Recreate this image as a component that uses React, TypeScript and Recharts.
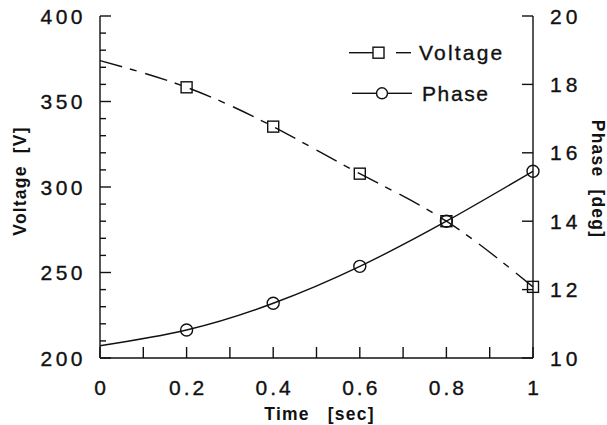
import React from 'react';
import { LineChart, Line, XAxis, YAxis, Legend, Label } from 'recharts';

const times = [0, 0.2, 0.4, 0.6, 0.8, 1.0];
const voltage = [373.9, 358.3, 335.3, 307.8, 280, 241.6];
const phase = [10.36, 10.82, 11.6, 12.68, 14.0, 15.46];

const xTicks = [0, 0.1, 0.2, 0.3, 0.4, 0.5, 0.6, 0.7, 0.8, 0.9, 1.0];
const voltageTicks = [200, 210, 220, 230, 240, 250, 260, 270, 280, 290, 300, 310, 320, 330, 340, 350, 360, 370, 380, 390, 400];
const phaseTicks = [10, 12, 14, 16, 18, 20];

const data = times.map((t, i) => ({ t, voltage: voltage[i], phase: phase[i] }));

const FONT = '"Liberation Sans", Arial, Helvetica, sans-serif';
const INK = '#111';
const SW = 1.4;
const TXT_STROKE = 0.35;

const fmtX = (v: number) => (Math.abs(v) < 1e-9 ? '0' : Math.abs(v - 1) < 1e-9 ? '1' : v.toFixed(1));

const BottomTick = (props: any) => {
  const { x, y, payload } = props;
  const v = payload.value as number;
  const major = Math.round(v * 10) % 2 === 0;
  return (
    <g>
      <line x1={x} y1={y} x2={x} y2={y - 11} stroke={INK} strokeWidth={SW} />
      {major && (
        <text x={x + 1.5} y={y + 37} textAnchor="middle" fontFamily={FONT} fontSize={21} fill={INK} stroke={INK} strokeWidth={TXT_STROKE} style={{ letterSpacing: 3 }}>
          {fmtX(v)}
        </text>
      )}
    </g>
  );
};

const TopTick = (props: any) => {
  const { x, y } = props;
  return <line x1={x} y1={y} x2={x} y2={y + 11} stroke={INK} strokeWidth={SW} />;
};

const LeftTick = (props: any) => {
  const { x, y, payload } = props;
  const v = payload.value as number;
  const major = v % 50 === 0;
  return (
    <g>
      <line x1={x} y1={y} x2={x + (major ? 11 : 6)} y2={y} stroke={INK} strokeWidth={SW} />
      {major && (
        <text x={x - 14} y={y + 7.5} textAnchor="end" fontFamily={FONT} fontSize={21} fill={INK} stroke={INK} strokeWidth={TXT_STROKE} style={{ letterSpacing: 3.5 }}>
          {v}
        </text>
      )}
    </g>
  );
};

const RightTick = (props: any) => {
  const { x, y, payload } = props;
  const v = payload.value as number;
  return (
    <g>
      <line x1={x} y1={y} x2={x - 11} y2={y} stroke={INK} strokeWidth={SW} />
      <text x={x + 17} y={y + 7.5} textAnchor="start" fontFamily={FONT} fontSize={21} fill={INK} stroke={INK} strokeWidth={TXT_STROKE} style={{ letterSpacing: 4 }}>
        {v}
      </text>
    </g>
  );
};

const SquareDot = (props: any) => {
  const { cx, cy, index } = props;
  if (index === 0) return <g key={`vs${index}`} />;
  return <rect key={`vs${index}`} x={cx - 5.5} y={cy - 5.5} width={11} height={11} fill="none" stroke={INK} strokeWidth={SW} />;
};

const CircleDot = (props: any) => {
  const { cx, cy, index } = props;
  if (index === 0) return <g key={`pc${index}`} />;
  return <circle key={`pc${index}`} cx={cx} cy={cy} r={6} fill="none" stroke={INK} strokeWidth={SW} />;
};

const LegendBox = () => (
  <svg width={180} height={75} style={{ overflow: 'visible' }}>
    <line x1={4} y1={14.7} x2={28} y2={14.7} stroke={INK} strokeWidth={SW} />
    <rect x={28} y={9.2} width={11} height={11} fill="none" stroke={INK} strokeWidth={SW} />
    <line x1={51} y1={14.7} x2={66} y2={14.7} stroke={INK} strokeWidth={SW} />
    <text x={74} y={22} fontFamily={FONT} fontSize={21} fill={INK} stroke={INK} strokeWidth={TXT_STROKE} style={{ letterSpacing: 2.2 }}>Voltage</text>
    <line x1={7} y1={55.3} x2={31} y2={55.3} stroke={INK} strokeWidth={SW} />
    <circle cx={37} cy={55.3} r={5.5} fill="none" stroke={INK} strokeWidth={SW} />
    <line x1={43} y1={55.3} x2={67} y2={55.3} stroke={INK} strokeWidth={SW} />
    <text x={77} y={62.5} fontFamily={FONT} fontSize={21} fill={INK} stroke={INK} strokeWidth={TXT_STROKE} style={{ letterSpacing: 1.6 }}>Phase</text>
  </svg>
);

const titleStyle = { letterSpacing: 1.2 };

export default function App() {
  return (
    <div style={{ position: 'absolute', left: 0, top: 0, width: 607, height: 425, background: '#fff' }}>
      <LineChart width={607} height={425} data={data} margin={{ top: 16, right: 0, bottom: 0, left: 0 }}>
        <XAxis
          dataKey="t"
          type="number"
          domain={[0, 1]}
          ticks={xTicks}
          interval={0}
          tickSize={0}
          tickMargin={0}
          tick={BottomTick}
          tickLine={false}
          axisLine={{ stroke: INK, strokeWidth: SW }}
          height={67}
        >
          <Label
            content={(p: any) => {
              const vb = p.viewBox;
              return (
                <text x={vb.x + vb.width / 2 + 3} y={vb.y + 62} textAnchor="middle" fontFamily={FONT} fontWeight="bold" fontSize={17.5} fill={INK} style={titleStyle}>
                  {'Time\u00a0\u00a0\u00a0[sec]'}
                </text>
              );
            }}
          />
        </XAxis>
        <XAxis
          xAxisId="top"
          dataKey="t"
          type="number"
          orientation="top"
          domain={[0, 1]}
          ticks={xTicks}
          interval={0}
          tickSize={0}
          tickMargin={0}
          tick={TopTick}
          tickLine={false}
          axisLine={{ stroke: INK, strokeWidth: SW }}
          height={0}
        />
        <YAxis
          yAxisId="v"
          domain={[200, 400]}
          ticks={voltageTicks}
          interval={0}
          tickSize={0}
          tickMargin={0}
          tick={LeftTick}
          tickLine={false}
          axisLine={{ stroke: INK, strokeWidth: SW }}
          width={100}
          allowDataOverflow
        >
          <Label
            content={(p: any) => {
              const vb = p.viewBox;
              const cx = 20;
              const cy = vb.y + vb.height / 2 - 6;
              return (
                <text x={cx} y={cy} transform={`rotate(-90 ${cx} ${cy})`} textAnchor="middle" dominantBaseline="central" fontFamily={FONT} fontWeight="bold" fontSize={17.5} fill={INK} style={titleStyle}>
                  {'Voltage\u00a0\u00a0[V]'}
                </text>
              );
            }}
          />
        </YAxis>
        <YAxis
          yAxisId="p"
          orientation="right"
          domain={[10, 20]}
          ticks={phaseTicks}
          interval={0}
          tickSize={0}
          tickMargin={0}
          tick={RightTick}
          tickLine={false}
          axisLine={{ stroke: INK, strokeWidth: SW }}
          width={74}
          allowDataOverflow
        >
          <Label
            content={(p: any) => {
              const vb = p.viewBox;
              const cx = 598;
              const cy = vb.y + vb.height / 2 - 8;
              return (
                <text x={cx} y={cy} transform={`rotate(90 ${cx} ${cy})`} textAnchor="middle" dominantBaseline="central" fontFamily={FONT} fontWeight="bold" fontSize={17.5} fill={INK} style={titleStyle}>
                  {'Phase\u00a0\u00a0[deg]'}
                </text>
              );
            }}
          />
        </YAxis>
        <Legend
          layout="horizontal"
          verticalAlign="middle"
          align="center"
          content={LegendBox}
          wrapperStyle={{ position: 'absolute', left: 345, top: 38, width: 180, height: 75 }}
        />
        <Line
          yAxisId="v"
          type="natural"
          dataKey="voltage"
          stroke={INK}
          strokeWidth={SW}
          strokeDasharray="23 8 7 9"
          dot={SquareDot}
          activeDot={false}
          isAnimationActive={false}
        />
        <Line
          yAxisId="p"
          type="natural"
          dataKey="phase"
          stroke={INK}
          strokeWidth={SW}
          dot={CircleDot}
          activeDot={false}
          isAnimationActive={false}
        />
      </LineChart>
    </div>
  );
}
